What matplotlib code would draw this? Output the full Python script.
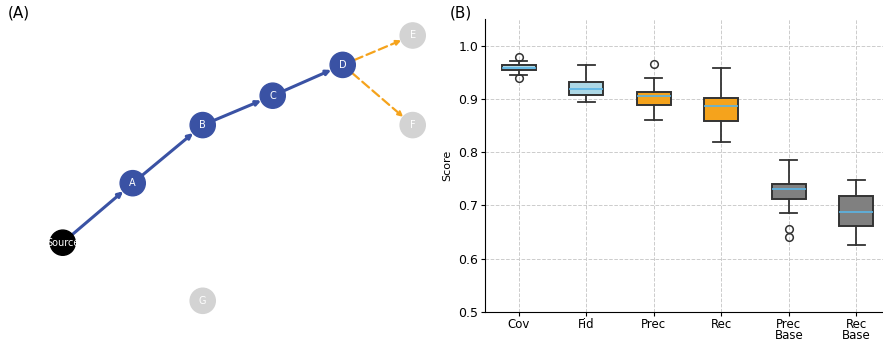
import numpy as np
import matplotlib.pyplot as plt
from matplotlib.patches import Circle

# ---- panel A: graph layout (units of node spacing) ----
node_names = ['Source', 'A', 'B', 'C', 'D', 'E', 'F', 'G']
node_x = [0, 1, 2, 3, 4, 5, 5, 2]
node_y = [0, 0.85, 1.68, 2.1, 2.54, 2.96, 1.68, -0.83]
node_colors = ['black', '#3a52a4', '#3a52a4', '#3a52a4', '#3a52a4', '#d3d3d3', '#d3d3d3', '#d3d3d3']
path_edges = [('Source', 'A'), ('A', 'B'), ('B', 'C'), ('C', 'D')]
branch_edges = [('D', 'E'), ('D', 'F')]

# ---- panel B: box statistics ----
labels = ['Cov', 'Fid', 'Prec', 'Rec', 'Prec\nBase', 'Rec\nBase']
whislo = [0.945, 0.895, 0.860, 0.820, 0.685, 0.626]
q1 = [0.9536, 0.907, 0.889, 0.858, 0.712, 0.662]
med = [0.9585, 0.919, 0.906, 0.887, 0.730, 0.6875]
q3 = [0.963, 0.932, 0.913, 0.902, 0.741, 0.717]
whishi = [0.972, 0.964, 0.939, 0.9585, 0.785, 0.747]
fliers = [[0.978, 0.939], [], [0.965], [], [0.656, 0.641], []]
box_colors = ['#add8e6', '#add8e6', '#f5a31c', '#f5a31c', '#808080', '#808080']

fig = plt.figure(figsize=(8.83, 3.43), dpi=100)

# panel A
axA = fig.add_axes([0, 0, 440 / 883, 1])
axA.set_xlim(-0.896, 5.39)
axA.set_ylim(-1.433, 3.467)
axA.axis('off')
pos = {n: (x, y) for n, x, y in zip(node_names, node_x, node_y)}
r = 0.18
for n, c in zip(node_names, node_colors):
    axA.add_patch(Circle(pos[n], r, color=c, zorder=3))
    axA.text(pos[n][0], pos[n][1], n, color='white', fontsize=7,
             ha='center', va='center', zorder=4)

for u, v in path_edges:
    axA.annotate('', xy=pos[v], xytext=pos[u], zorder=2,
                 arrowprops=dict(arrowstyle='-|>', color='#3a52a4', lw=2.2,
                                 mutation_scale=7, shrinkA=0, shrinkB=9))
for u, v in branch_edges:
    axA.annotate('', xy=pos[v], xytext=pos[u], zorder=2,
                 arrowprops=dict(arrowstyle='-|>', color='#f5a31c', lw=1.6,
                                 linestyle=(0, (4, 2)), mutation_scale=7,
                                 shrinkA=9, shrinkB=9))
fig.text(8 / 883, 1 - 13 / 343, '(A)', fontsize=11, va='center', ha='left')

# panel B
axB = fig.add_axes([485 / 883, 31 / 343, 405 / 883, 293 / 343])
stats = []
for i in range(len(labels)):
    stats.append(dict(med=med[i], q1=q1[i], q3=q3[i], whislo=whislo[i],
                      whishi=whishi[i], fliers=fliers[i], label=labels[i]))
bp = axB.bxp(stats, positions=range(1, 7), widths=0.5, patch_artist=True,
             boxprops=dict(edgecolor='#333333', linewidth=1.4),
             whiskerprops=dict(color='#333333', linewidth=1.3),
             capprops=dict(color='#333333', linewidth=1.3),
             medianprops=dict(color='#5ab4e5', linewidth=1.2),
             flierprops=dict(marker='o', markersize=5.5, markerfacecolor='none',
                             markeredgecolor='#333333', markeredgewidth=1.1))
for patch, c in zip(bp['boxes'], box_colors):
    patch.set_facecolor(c)

axB.set_xlim(0.5, 6.5)
axB.set_ylim(0.5, 1.05)
axB.set_yticks(np.arange(0.5, 1.01, 0.1))
axB.set_yticklabels(['0.5', '0.6', '0.7', '0.8', '0.9', '1.0'])
axB.tick_params(labelsize=9, length=3, width=0.8, pad=2)
axB.tick_params(axis='x', pad=1, labelsize=8.5)
for t in axB.get_xticklabels():
    t.set_linespacing(0.85)
axB.set_ylabel('Score', fontsize=8, labelpad=4)
axB.grid(True, linestyle='--', color='#cccccc', linewidth=0.7)
axB.set_axisbelow(True)
axB.spines['top'].set_visible(False)
axB.spines['right'].set_visible(False)
fig.text(450 / 883, 1 - 13 / 343, '(B)', fontsize=11, va='center', ha='left')

fig.savefig('out.png', dpi=100)
